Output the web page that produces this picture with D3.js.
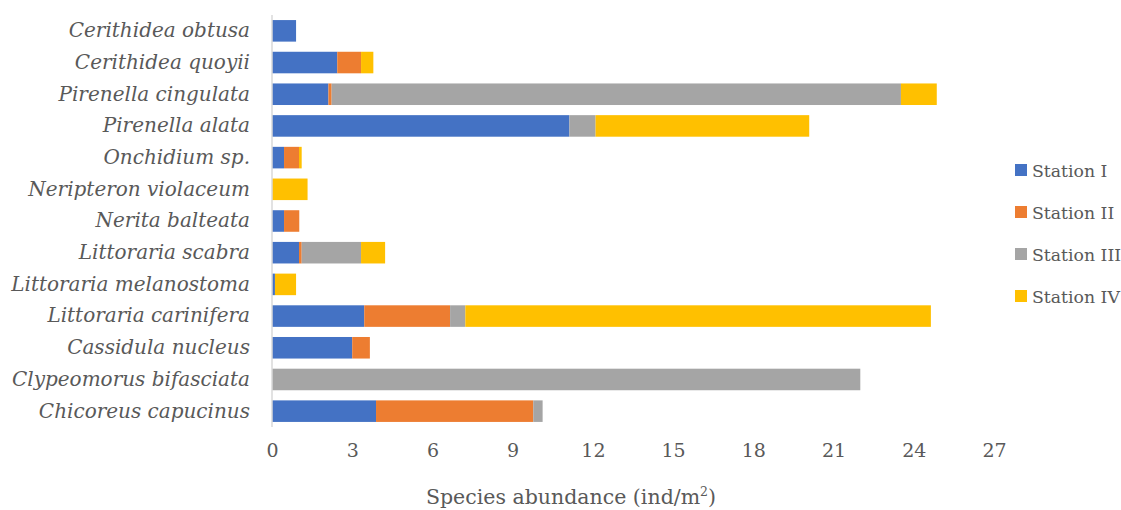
<!DOCTYPE html>
<html><head><meta charset="utf-8">
<script src="https://cdn.jsdelivr.net/npm/d3@7"></script>
<style>html,body{margin:0;padding:0;background:#fff;}</style>
</head><body>
<svg id="chart" width="1121" height="510"></svg>
<script>
const categories = ["Cerithidea obtusa","Cerithidea quoyii","Pirenella cingulata","Pirenella alata","Onchidium sp.","Neripteron violaceum","Nerita balteata","Littoraria scabra","Littoraria melanostoma","Littoraria carinifera","Cassidula nucleus","Clypeomorus bifasciata","Chicoreus capucinus"];
const seriesNames = ["Station I","Station II","Station III","Station IV"];
const stationI   = [0.90, 2.44, 2.11, 11.12, 0.45, 0,    0.45, 1.01, 0.11, 3.45, 3.00, 0,     3.89];
const stationII  = [0,    0.89, 0.12, 0,     0.56, 0,    0.57, 0.10, 0,    3.21, 0.66, 0,     5.88];
const stationIII = [0,    0,    21.29, 0.98, 0,    0,    0,    2.22, 0,    0.57, 0,    22.00, 0.35];
const stationIV  = [0,    0.46, 1.34, 7.99,  0.10, 1.33, 0,    0.90, 0.79, 17.41, 0,   0,     0];
const xTicks = [0,3,6,9,12,15,18,21,24,27];
const colors = ["#4472C4","#ED7D31","#A5A5A5","#FFC000"];

const svg = d3.select("#chart");
const margin = {left:272, right:127, top:15, bottom:83};
const W = 1121, H = 510;
const x = d3.scaleLinear().domain([0,27]).range([margin.left, 994]);
const y = d3.scaleBand().domain(categories).range([margin.top, H - margin.bottom]).paddingInner(0.32).paddingOuter(0.16);

const rows = categories.map((c,i)=>({cat:c, "Station I":stationI[i], "Station II":stationII[i], "Station III":stationIII[i], "Station IV":stationIV[i]}));
const stack = d3.stack().keys(seriesNames)(rows);

svg.append("g").selectAll("g").data(stack).join("g")
  .attr("fill",(d,i)=>colors[i])
  .selectAll("rect").data(d=>d.map(v=>({v,cat:v.data.cat}))).join("rect")
  .filter(d=>d.v[1]-d.v[0]>0)
  .attr("x",d=>x(d.v[0]))
  .attr("width",d=>x(d.v[1])-x(d.v[0]))
  .attr("y",d=>y(d.cat))
  .attr("height",y.bandwidth());

// vertical axis line
svg.append("line").attr("x1",x(0)).attr("x2",x(0)).attr("y1",margin.top).attr("y2",H-margin.bottom)
  .attr("stroke","#d9d9d9").attr("stroke-width",1.5);

const font = "'DejaVu Serif', 'Liberation Serif', serif";
// category labels
const yAxis = d3.axisLeft(y).tickSize(0).tickPadding(22);
const yg = svg.append("g").attr("transform",`translate(${x(0)},0)`).call(yAxis);
yg.select(".domain").remove();
yg.selectAll("text").attr("font-family",font).attr("font-style","italic").attr("font-size",20).attr("fill","#595959");

// x axis ticks labels
const xAxis = d3.axisBottom(x).tickValues(xTicks).tickSize(0).tickPadding(12);
const xg = svg.append("g").attr("transform",`translate(0,${H-margin.bottom+5})`).call(xAxis);
xg.select(".domain").remove();
xg.selectAll("text").attr("font-family",font).attr("font-size",19).attr("fill","#595959");

// axis title
const title = svg.append("text").attr("x",571).attr("y",504).attr("text-anchor","middle")
  .attr("font-family",font).attr("font-size",20.5).attr("fill","#595959");
title.append("tspan").text("Species abundance (ind/m");
title.append("tspan").attr("dy",-8).attr("font-size",12.5).text("2");
title.append("tspan").attr("dy",8).text(")");

// legend
const lg = svg.append("g").selectAll("g").data(seriesNames).join("g")
  .attr("transform",(d,i)=>`translate(1015,${170+i*42})`);
lg.append("rect").attr("x",0).attr("y",-6).attr("width",12).attr("height",12).attr("fill",(d,i)=>colors[i]);
lg.append("text").attr("x",17).attr("y",7).attr("font-family",font).attr("font-size",17.3).attr("fill","#595959").text(d=>d);
</script>
</body></html>
